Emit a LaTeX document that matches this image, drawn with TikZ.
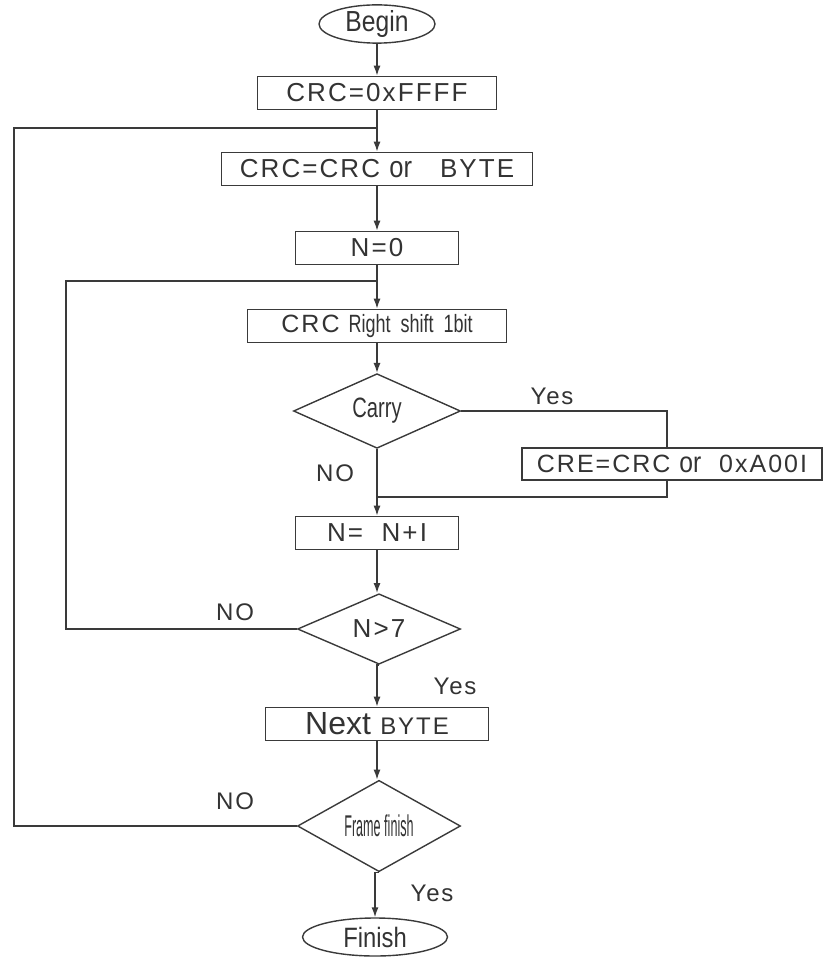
\documentclass[tikz,border=0pt]{standalone}
\usepackage{fontspec}
\setmainfont{Liberation Sans}
\newfontfamily\wideFont[LetterSpace=8]{Liberation Sans}
\newfontfamily\narrowFont[FakeStretch=0.85]{Liberation Sans}
\newfontfamily\slimFont[FakeStretch=0.72]{Liberation Sans}
\newfontfamily\thinFont[FakeStretch=0.42]{Liberation Sans}
\usetikzlibrary{arrows.meta,shapes.geometric}
\definecolor{lineGray}{HTML}{3A3A3A}
\definecolor{textGray}{HTML}{333333}
\newcommand{\boxFont}{\wideFont\fontsize{26}{28}\selectfont}
\tikzset{
  link/.style={draw=lineGray, line width=1.4pt},
  arrow/.style={-{Latex[length=10pt,width=7pt]}, draw=lineGray, line width=1.4pt},
  terminal/.style={ellipse, draw=lineGray, line width=1.4pt, inner sep=0pt, text=textGray},
  process/.style={rectangle, draw=lineGray, line width=1.6pt, inner sep=0pt, minimum height=33pt, text=textGray, font=\boxFont},
  decision/.style={diamond, draw=lineGray, line width=1.4pt, inner sep=0pt, minimum width=163pt, minimum height=52pt, text=textGray},
  flowLabel/.style={font=\wideFont\fontsize{24}{26}\selectfont, text=textGray, inner sep=0pt}
}

\begin{document}
\begin{tikzpicture}[x=1pt,y=-1pt]
\useasboundingbox (0,0) rectangle (826,957);

% main column
\node[terminal, minimum width=116pt, minimum height=34pt] (begin) at (377,24) {\narrowFont\fontsize{29}{30}\selectfont Begin};
\node[process, minimum width=239pt] (init) at (377,93) {CRC=0xFFFF};
\node[process, minimum width=311pt] (xorByte) at (377,169) {CRC=CRC {\narrowFont\fontsize{30}{30}\selectfont or}\ \ \ BYTE};
\node[process, minimum width=163pt] (nZero) at (377,248) {N=0};
\node[process, minimum width=259pt] (shift) at (377,326) {\wideFont\fontsize{25}{27}\selectfont CRC {\slimFont\fontsize{25}{27}\selectfont Right\ \ shift\ \ 1bit}};
\node[decision, minimum width=167pt] (carry) at (377,411) {\slimFont\fontsize{28}{30}\selectfont Carry};
\node[process, minimum width=300pt, minimum height=32pt] (cre) at (672,464) {\wideFont\fontsize{25}{27}\selectfont CRE=CRC {\narrowFont\fontsize{29}{30}\selectfont or}\ \ 0xA00I};
\node[process, minimum width=163pt] (nPlus) at (377,533) {N=\ \ N+I};
\node[decision] (nCheck) at (379,629) {\boxFont N>7};
\node[process, minimum width=223pt] (nextByte) at (377,724) {{\rmfamily\fontsize{32}{34}\selectfont Next}\ {\fontsize{24}{26}\selectfont BYTE}};
\node[decision] (frame) at (379,826) {\thinFont\fontsize{30}{30}\selectfont Frame finish};
\node[terminal, minimum width=145pt, minimum height=38pt] (finish) at (375,937) {\narrowFont\fontsize{28}{30}\selectfont Finish};

% join points
\coordinate (outerJoin) at (377,128);
\coordinate (outerLeft) at (14,826);
\coordinate (innerJoin) at (377,281);
\coordinate (innerLeft) at (66,629);
\coordinate (yesCorner) at (667,411);
\coordinate (creJoin) at (377,497);

\draw[arrow] (begin.south) -- (init.north);
\draw[link] (init.south) -- (outerJoin);
\draw[arrow] (outerJoin) -- (xorByte.north);
\draw[arrow] (xorByte.south) -- (nZero.north);
\draw[arrow] (nZero.south) -- (shift.north);
\draw[arrow] (shift.south) -- (carry.north);
\draw[arrow] (carry.south) -- (carry.south |- nPlus.north);
\draw[arrow] (nPlus.south) -- (nPlus.south |- nCheck.north);
\draw[arrow] (nCheck.south) -- (nCheck.south -| nextByte.north) -- (nextByte.north);
\draw[arrow] (nextByte.south) -- (nextByte.south |- frame.north);
\draw[arrow] (frame.south) -- (frame.south -| finish.north) -- (finish.north);

% carry branch
\draw[link] (carry.east) -- (yesCorner) -- (yesCorner |- cre.north);
\draw[link] (yesCorner |- cre.south) |- (creJoin);
\node[flowLabel] (carryYes) at (552,396) {Yes};
\node[flowLabel] (carryNo) at (335,473) {NO};

% loops
\draw[link] (nCheck.west) -- (innerLeft) |- (innerJoin);
\node[flowLabel] (checkNo) at (235,612) {NO};
\node[flowLabel] (checkYes) at (455,686) {Yes};
\draw[link] (frame.west) -- (outerLeft) |- (outerJoin);
\node[flowLabel] (frameNo) at (235,801) {NO};
\node[flowLabel] (frameYes) at (432,893) {Yes};

\end{tikzpicture}
\end{document}
